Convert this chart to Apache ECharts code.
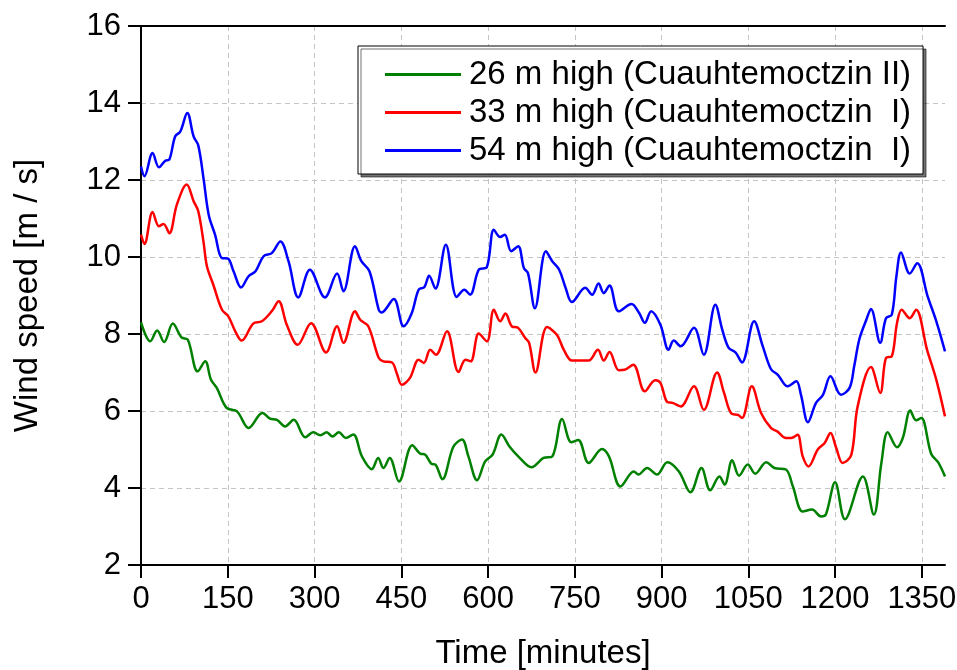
<!DOCTYPE html>
<html>
<head>
<meta charset="utf-8">
<script src="https://cdn.jsdelivr.net/npm/echarts@6/dist/echarts.min.js"></script>
<style>
  html, body { margin: 0; padding: 0; background: #fff; }
  #chart { width: 957px; height: 670px; }
</style>
</head>
<body>
<div id="chart"></div>
<script>
// wind speed readings, [minute, m/s]
const names = ['26 m high (Cuauhtemoctzin II)', '33 m high (Cuauhtemoctzin  I)', '54 m high (Cuauhtemoctzin  I)'];
const xTicks = [0, 150, 300, 450, 600, 750, 900, 1050, 1200, 1350];

const green26 = [[0,8.3],[16,7.81],[28,8.09],[40,7.79],[55,8.27],[70,7.91],[81,7.85],[98,7.03],[111,7.29],[121,6.81],[131,6.6],[148,6.08],[166,5.99],[186,5.56],[210,5.95],[223,5.8],[235,5.77],[249,5.6],[264,5.77],[284,5.32],[298,5.45],[310,5.37],[321,5.45],[331,5.34],[342,5.45],[354,5.3],[367,5.39],[382,4.82],[399,4.49],[410,4.78],[419,4.52],[430,4.78],[446,4.17],[469,5.11],[483,4.89],[491,4.87],[502,4.63],[509,4.61],[521,4.23],[540,5.07],[555,5.26],[566,4.82],[581,4.2],[595,4.69],[608,4.87],[623,5.39],[637,5.08],[653,4.81],[675,4.54],[696,4.78],[711,4.82],[728,5.79],[744,5.19],[756,5.25],[774,4.65],[797,5.01],[809,4.82],[829,4.04],[852,4.43],[860,4.35],[875,4.52],[892,4.35],[910,4.67],[930,4.43],[950,3.89],[969,4.52],[984,3.94],[1000,4.3],[1009,4.09],[1022,4.72],[1034,4.32],[1049,4.61],[1062,4.37],[1081,4.67],[1095,4.52],[1115,4.48],[1127,4.04],[1144,3.39],[1160,3.44],[1176,3.26],[1184,3.31],[1200,4.15],[1217,3.19],[1248,4.3],[1267,3.31],[1280,4.65],[1291,5.45],[1307,5.06],[1317,5.3],[1330,6.01],[1340,5.76],[1349,5.82],[1366,4.89],[1378,4.67],[1390,4.3]];

const red33 = [[0,10.58],[6,10.34],[20,11.17],[31,10.8],[39,10.86],[49,10.62],[62,11.36],[79,11.88],[91,11.45],[99,11.19],[108,10.4],[114,9.76],[125,9.28],[140,8.63],[151,8.46],[163,8.07],[174,7.83],[194,8.27],[209,8.33],[226,8.59],[238,8.85],[252,8.24],[271,7.72],[294,8.28],[320,7.52],[339,8.2],[350,7.77],[370,8.59],[379,8.37],[393,8.2],[411,7.38],[419,7.29],[434,7.26],[442,6.99],[451,6.68],[465,6.86],[480,7.33],[489,7.25],[500,7.59],[510,7.46],[529,8.07],[549,7.01],[561,7.33],[570,7.29],[584,8.01],[598,7.81],[610,8.63],[621,8.33],[630,8.53],[641,8.2],[652,8.16],[664,7.9],[671,7.77],[682,7.0],[702,8.18],[719,7.98],[731,7.59],[745,7.31],[760,7.31],[774,7.31],[790,7.59],[800,7.31],[810,7.53],[826,7.06],[836,7.07],[851,7.2],[871,6.51],[889,6.8],[898,6.73],[910,6.23],[919,6.21],[933,6.12],[956,6.64],[973,6.03],[996,7.0],[1008,6.47],[1021,5.93],[1032,5.9],[1039,5.82],[1056,6.64],[1072,5.95],[1089,5.56],[1100,5.47],[1115,5.3],[1124,5.3],[1135,5.38],[1144,4.82],[1154,4.56],[1170,5.0],[1182,5.17],[1192,5.43],[1202,5.04],[1213,4.65],[1228,4.86],[1239,6.12],[1262,7.14],[1278,6.47],[1288,7.38],[1298,7.42],[1307,8.28],[1315,8.63],[1329,8.41],[1340,8.63],[1359,7.59],[1375,6.81],[1390,5.86]];

const blue54 = [[0,12.35],[6,12.1],[20,12.7],[31,12.33],[42,12.5],[49,12.53],[59,13.13],[68,13.26],[80,13.74],[91,13.13],[99,12.9],[108,12.05],[117,11.1],[128,10.58],[140,9.97],[150,9.96],[160,9.63],[173,9.21],[186,9.5],[198,9.63],[212,10.02],[226,10.1],[241,10.4],[255,9.89],[272,8.95],[292,9.67],[318,8.95],[339,9.57],[350,9.11],[370,10.28],[381,9.89],[395,9.63],[411,8.63],[416,8.56],[437,8.91],[454,8.2],[468,8.54],[480,9.15],[490,9.22],[498,9.51],[509,9.18],[527,10.32],[546,8.96],[559,9.15],[569,9.02],[584,9.67],[598,9.74],[610,10.71],[621,10.52],[629,10.58],[640,10.15],[652,10.28],[662,9.71],[669,9.58],[681,8.67],[700,10.15],[711,9.89],[723,9.67],[734,9.2],[745,8.83],[768,9.2],[780,9.02],[791,9.31],[800,9.06],[810,9.26],[826,8.59],[848,8.78],[861,8.55],[871,8.29],[882,8.59],[898,8.24],[912,7.59],[921,7.83],[933,7.68],[956,8.16],[973,7.46],[993,8.76],[1005,8.11],[1016,7.64],[1028,7.52],[1039,7.26],[1060,8.33],[1075,7.68],[1089,7.09],[1101,6.94],[1118,6.64],[1133,6.77],[1141,6.42],[1153,5.71],[1167,6.21],[1179,6.42],[1192,6.9],[1210,6.42],[1225,6.6],[1233,7.16],[1242,7.87],[1254,8.37],[1262,8.65],[1278,7.77],[1288,8.41],[1298,8.5],[1306,9.5],[1314,10.12],[1329,9.57],[1342,9.84],[1360,8.98],[1375,8.33],[1390,7.55]];

const colors = ['#008000', '#ff0000', '#0000ff'];
const font = 'Liberation Sans, Arial, sans-serif';

const chart = echarts.init(document.getElementById('chart'));

function lineSeries(name, data, color) {
    return {
        name: name,
        type: 'line',
        data: data,
        smooth: 0.35,
        symbol: 'none',
        color: color,
        lineStyle: { color: color, width: 2.5 }
    };
}

const dash = { show: true, lineStyle: { color: '#c4c4c4', width: 1, type: [5, 4] } };
const blackLine = { lineStyle: { color: '#000', width: 2 } };

chart.setOption({
    animation: false,
    textStyle: { fontFamily: font },
    grid: { left: 141, right: 12, top: 26, bottom: 105, outerBoundsMode: 'none' },
    legend: {
        data: names,
        orient: 'vertical',
        left: 358, top: 46,
        padding: [12, 12, 7, 27],
        itemGap: 5,
        itemWidth: 76, itemHeight: 3,
        icon: 'rect',
        backgroundColor: '#fff',
        borderColor: '#000', borderWidth: 1,
        shadowColor: 'rgba(0,0,0,0.55)', shadowBlur: 0,
        shadowOffsetX: 3, shadowOffsetY: 3,
        textStyle: { fontSize: 33, color: '#000', fontFamily: font, padding: [0, 0, 0, 3] }
    },
    xAxis: [{
        type: 'value',
        min: 0, max: 1390, interval: 150,
        name: 'Time [minutes]',
        nameLocation: 'middle',
        nameGap: 72,
        nameTextStyle: { fontSize: 33, color: '#000', fontFamily: font },
        axisLine: blackLine,
        axisTick: { length: 13, customValues: xTicks, lineStyle: { color: '#000', width: 2 } },
        axisLabel: {
            fontSize: 31, color: '#000', margin: 19, fontFamily: font,
            customValues: xTicks,
            formatter: v => String(v)
        },
        splitLine: dash
    }, {
        type: 'value', position: 'top',
        min: 0, max: 1390,
        axisLine: { show: true, lineStyle: { color: '#000', width: 2 } },
        axisTick: { show: false }, axisLabel: { show: false }, splitLine: { show: false }
    }],
    yAxis: [{
        type: 'value',
        min: 2, max: 16, interval: 2,
        name: 'Wind speed [m / s]',
        nameLocation: 'middle',
        nameGap: 97,
        nameTextStyle: { fontSize: 33, color: '#000', fontFamily: font },
        axisLine: blackLine,
        axisTick: { length: 13, lineStyle: { color: '#000', width: 2 } },
        axisLabel: { fontSize: 31, color: '#000', margin: 20, fontFamily: font },
        splitLine: dash
    }, {
        type: 'value', position: 'right',
        min: 2, max: 16,
        axisLine: { show: true, lineStyle: { color: '#000', width: 2 } },
        axisTick: { show: false }, axisLabel: { show: false }, splitLine: { show: false }
    }],
    series: [
        lineSeries(names[0], green26, colors[0]),
        lineSeries(names[1], red33, colors[1]),
        lineSeries(names[2], blue54, colors[2])
    ]
});
</script>
</body>
</html>
